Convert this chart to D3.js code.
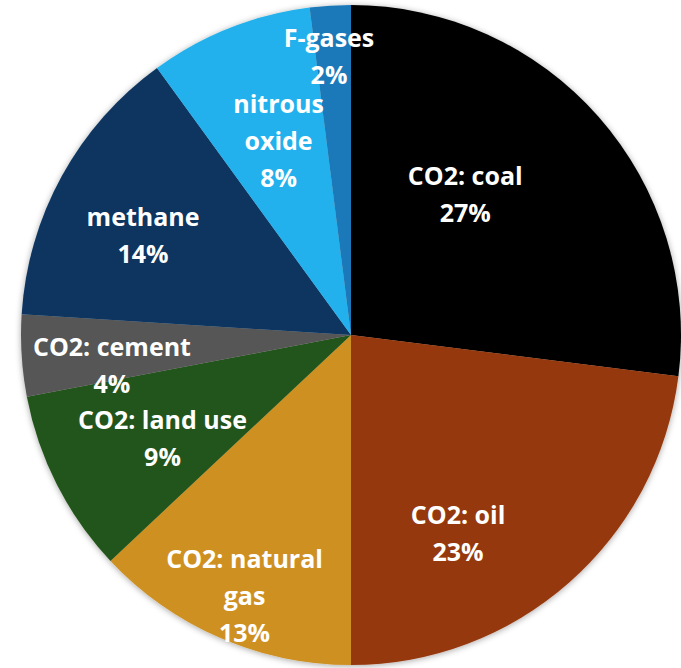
<!DOCTYPE html>
<html>
<head>
<meta charset="utf-8">
<script src="https://cdn.jsdelivr.net/npm/d3@7"></script>
<style>
  html, body { margin: 0; padding: 0; background: #ffffff; }
  svg { display: block; }
</style>
</head>
<body>
<svg id="chart" width="681" height="668"></svg>
<script>
// Share of global greenhouse-gas emissions by source (%)
const categories = [
  "CO2: coal", "CO2: oil", "CO2: natural gas", "CO2: land use",
  "CO2: cement", "methane", "nitrous oxide", "F-gases"
];
const values = [27, 23, 13, 9, 4, 14, 8, 2];
// Label text, one array of lines per slice
const labelLines = [
  ["CO2: coal"], ["CO2: oil"], ["CO2: natural", "gas"], ["CO2: land use"],
  ["CO2: cement"], ["methane"], ["nitrous", "oxide"], ["F-gases"]
];
const colors = [
  "#000000", "#95370b", "#cf9020", "#24551a",
  "#565656", "#0b3661", "#23b1ec", "#1a79b9"
];
// Label anchor: fraction of radius and angle (degrees clockwise from 12 o'clock)
const labelRadius = [0.55, 0.68, 0.85, 0.65, 0.73, 0.70, 0.63, 0.85];
const labelAngle  = [39, 151.5, 202.3, 241.5, 262.9, 295.8, 339.6, 355.5];

const width = 681, height = 668;
const cx = 351, cy = 335, radius = 330;
const lineH = 37;

const svg = d3.select("#chart");

const defs = svg.append("defs");
const shadow = defs.append("filter").attr("id", "pieShadow")
  .attr("x", "-10%").attr("y", "-10%").attr("width", "120%").attr("height", "120%");
shadow.append("feDropShadow")
  .attr("dx", 0).attr("dy", 1).attr("stdDeviation", 3)
  .attr("flood-color", "#000").attr("flood-opacity", 0.35);

const g = svg.append("g").attr("transform", `translate(${cx},${cy})`);

const pie = d3.pie().sort(null).value(d => d.value);
const arc = d3.arc().innerRadius(0).outerRadius(radius);

const data = categories.map((c, i) => ({ name: c, value: values[i], i }));
const arcs = pie(data);

g.append("g").attr("filter", "url(#pieShadow)")
  .selectAll("path")
  .data(arcs)
  .join("path")
  .attr("d", arc)
  .attr("fill", d => colors[d.data.i]);

const total = d3.sum(values);
const fmt = v => Math.round(v / total * 100) + "%";

const labels = g.append("g")
  .attr("font-family", "'Open Sans', sans-serif")
  .attr("font-weight", 700)
  .attr("font-size", 25)
  .attr("fill", "#ffffff")
  .attr("text-anchor", "middle");

arcs.forEach(d => {
  const i = d.data.i;
  const a = labelAngle[i] * Math.PI / 180;
  const r = labelRadius[i] * radius;
  const x = r * Math.sin(a), y = -r * Math.cos(a);
  const lines = labelLines[i].concat([fmt(d.data.value)]);
  const y0 = y - (lines.length - 1) * lineH / 2;
  const t = labels.append("text")
    .attr("x", x).attr("y", y0)
    .attr("dominant-baseline", "central");
  lines.forEach((ln, k) => {
    t.append("tspan").attr("x", x).attr("y", y0 + k * lineH).text(ln);
  });
});
</script>
</body>
</html>
